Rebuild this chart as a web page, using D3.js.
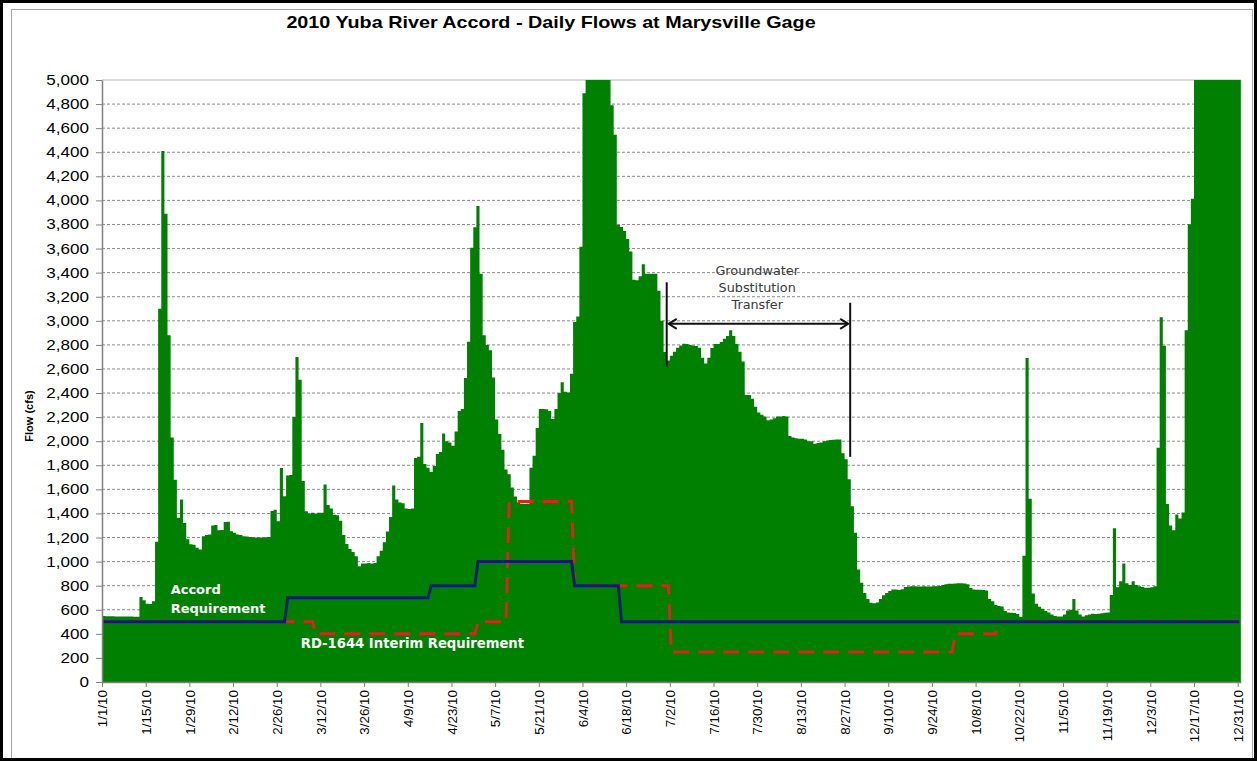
<!DOCTYPE html>
<html>
<head>
<meta charset="utf-8">
<script src="https://cdn.jsdelivr.net/npm/d3@7"></script>
<style>
  html, body { margin: 0; padding: 0; background: #fff; }
  svg { display: block; }
</style>
</head>
<body>
<div class="flow-viz"></div>
<script>
// daily flow at the Marysville gage, cfs, one value per day of 2010
// (the June and late-December peaks run off the top)
const flowJan = [548, 547, 546, 546, 545, 545, 544, 544, 543, 543, 542, 542, 705, 680, 650, 648, 670, 1165, 3100, 4410, 3890, 2880, 2030, 1680, 1365, 1515, 1320, 1185, 1145, 1140, 1115];
const flowFeb = [1100, 1210, 1220, 1225, 1300, 1305, 1260, 1262, 1328, 1330, 1253, 1240, 1225, 1220, 1211, 1208, 1205, 1203, 1200, 1200, 1200, 1202, 1205, 1420, 1430, 1336, 1778, 1543];
const flowMar = [1715, 1720, 2200, 2700, 2510, 1670, 1418, 1400, 1405, 1400, 1405, 1405, 1640, 1470, 1440, 1390, 1385, 1340, 1220, 1146, 1105, 1080, 1045, 962, 985, 985, 988, 985, 988, 1045, 1090];
const flowApr = [1160, 1250, 1370, 1632, 1515, 1490, 1485, 1440, 1437, 1440, 1861, 1870, 2151, 1811, 1780, 1744, 1794, 1894, 1910, 2064, 2000, 1990, 1963, 2081, 2251, 2268, 2525, 2827, 3606, 3776];
const flowMay = [3953, 3390, 2880, 2800, 2755, 2530, 2180, 2060, 1930, 1765, 1725, 1615, 1540, 1490, 1480, 1478, 1480, 1780, 1880, 2110, 2268, 2268, 2265, 2250, 2185, 2268, 2400, 2490, 2410, 2405, 2560];
const flowJun = [2990, 3035, 3615, 4890, 5600, 6400, 7100, 6800, 6200, 5800, 5500, 5200, 4790, 4545, 3795, 3780, 3745, 3680, 3575, 3340, 3336, 3370, 3470, 3390, 3390, 3390, 3390, 3250, 3000, 2740];
const flowJul = [2670, 2710, 2742, 2776, 2795, 2810, 2808, 2800, 2795, 2790, 2776, 2694, 2645, 2694, 2775, 2808, 2808, 2824, 2850, 2873, 2922, 2873, 2808, 2743, 2661, 2384, 2384, 2352, 2287, 2238, 2220];
const flowAug = [2205, 2173, 2180, 2190, 2205, 2205, 2210, 2205, 2043, 2030, 2025, 2020, 2020, 2015, 2000, 2000, 1978, 1985, 1990, 2000, 2005, 2010, 2012, 2015, 2015, 1900, 1850, 1683, 1460, 1240, 935];
const flowSep = [824, 740, 690, 658, 655, 660, 690, 720, 740, 755, 768, 768, 765, 770, 790, 793, 795, 795, 793, 793, 795, 793, 793, 795, 795, 798, 805, 812, 815, 816];
const flowOct = [818, 820, 820, 818, 812, 780, 768, 766, 766, 765, 760, 690, 670, 640, 632, 628, 590, 577, 575, 573, 565, 542, 1048, 2692, 1522, 735, 650, 625, 609, 590, 577];
const flowNov = [560, 548, 544, 544, 560, 593, 600, 690, 593, 560, 544, 555, 560, 567, 565, 567, 570, 575, 577, 723, 1277, 788, 837, 984, 821, 805, 837, 805, 795, 790];
const flowDec = [782, 782, 788, 795, 1945, 3029, 2792, 1479, 1300, 1261, 1391, 1358, 1407, 2922, 3801, 4013, 5600, 6500, 7300, 8000, 8600, 9100, 9500, 9800, 10000, 10200, 10400, 10500, 10600, 10700, 10800];

// requirement schedules: day of year (0 = 1/1) where each level starts
const accordStart = [0, 59, 105, 120, 151, 166];
const accordValue = [500, 700, 800, 1000, 800, 500];
const rdStart = [0, 68, 120, 130, 151, 182, 273, 287];
const rdValue = [500, 400, 500, 1500, 800, 250, 400, 500];

const tickLabels = ["1/1/10", "1/15/10", "1/29/10", "2/12/10", "2/26/10", "3/12/10", "3/26/10", "4/9/10", "4/23/10", "5/7/10", "5/21/10", "6/4/10", "6/18/10", "7/2/10", "7/16/10", "7/30/10", "8/13/10", "8/27/10", "9/10/10", "9/24/10", "10/8/10", "10/22/10", "11/5/10", "11/19/10", "12/3/10", "12/17/10", "12/31/10"];
const yTicks = [0, 200, 400, 600, 800, 1000, 1200, 1400, 1600, 1800, 2000, 2200, 2400, 2600, 2800, 3000, 3200, 3400, 3600, 3800, 4000, 4200, 4400, 4600, 4800, 5000];

const flows = [].concat(flowJan, flowFeb, flowMar, flowApr, flowMay, flowJun,
  flowJul, flowAug, flowSep, flowOct, flowNov, flowDec);

const start = new Date(2010, 0, 1);
const dates = flows.map((d, i) => d3.timeDay.offset(start, i));
const fmt = d3.timeFormat("%-m/%-d/%y");

function expand(starts, values) {
  return flows.map((d, i) => values[d3.bisectRight(starts, i) - 1]);
}
const accord = expand(accordStart, accordValue);
const rd1644 = expand(rdStart, rdValue);

const FONT = "'Liberation Sans', Arial, sans-serif";
const STRETCH = 1.22; // the source picture is a bit wide

const margin = { top: 80, right: 16.2, bottom: 79, left: 102 },
  width = 1257 - margin.left - margin.right,
  height = 761 - margin.top - margin.bottom;

const root = d3.select(".flow-viz")
  .append("svg")
  .attr("width", 1257)
  .attr("height", 761);

// frames
root.append("rect")
  .attr("x", 11.5).attr("y", 9.5)
  .attr("width", 1241).attr("height", 749)
  .attr("fill", "none").attr("stroke", "#a6a6a6");
root.append("rect")
  .attr("x", 1.5).attr("y", 1.5)
  .attr("width", 1254).attr("height", 758)
  .attr("fill", "none").attr("stroke", "#000").attr("stroke-width", 3);

// title
root.append("text")
  .attr("transform", `translate(551,28) scale(${STRETCH},1)`)
  .attr("text-anchor", "middle")
  .attr("font-family", FONT)
  .attr("font-weight", "bold")
  .attr("font-size", "16.2px")
  .text("2010 Yuba River Accord - Daily Flows at Marysville Gage");

const svg = root.append("g")
  .attr("transform", `translate(${margin.left}, ${margin.top})`);

const x = d3.scaleBand()
  .domain(d3.range(flows.length))
  .range([0, width])
  .padding(0);
const xDay = d3.scaleLinear()
  .domain([0, flows.length])
  .range([0, width]);
const y = d3.scaleLinear()
  .domain([0, 5000])
  .range([height, 0])
  .clamp(true);

// gridlines
svg.append("g")
  .selectAll("line")
  .data(yTicks.filter(v => v > 0))
  .enter()
  .append("line")
  .attr("x1", 0).attr("x2", width)
  .attr("y1", d => y(d)).attr("y2", d => y(d))
  .attr("stroke", d => d === 5000 ? "#b5b5b5" : "#8a8a8a")
  .attr("stroke-dasharray", d => d === 5000 ? null : "3,2")
  .attr("stroke-width", 1);

svg.append("line")
  .attr("x1", width).attr("x2", width)
  .attr("y1", 0).attr("y2", height)
  .attr("stroke", "#b5b5b5");

// daily columns, drawn as one stepped outline so the 3px columns have no seams
const columns = d3.area()
  .x((d, i) => xDay(i))
  .y0(height)
  .y1(d => y(d))
  .curve(d3.curveStepAfter);

svg.append("path")
  .datum(flows.concat([flows[flows.length - 1]]))
  .attr("d", columns)
  .attr("fill", "#008000");

// requirement lines
const line = d3.line()
  .x((d, i) => x(i) + x.bandwidth() / 2)
  .y(d => y(d));

svg.append("path")
  .datum(rd1644)
  .attr("d", line)
  .attr("fill", "none")
  .attr("stroke", "#d8261c")
  .attr("stroke-width", 3)
  .attr("stroke-dasharray", "16,9");

svg.append("path")
  .datum(accord)
  .attr("d", line)
  .attr("fill", "none")
  .attr("stroke", "#0f1f6b")
  .attr("stroke-width", 3);

// Y axis
const yAxis = svg.append("g")
  .call(d3.axisLeft(y).tickValues(yTicks).tickFormat(d3.format(",")).tickSize(6).tickSizeOuter(0));
yAxis.select(".domain").attr("stroke", "#808080").attr("stroke-width", 1.5);
yAxis.selectAll(".tick line").attr("stroke", "#808080");
yAxis.selectAll("text")
  .attr("x", null)
  .attr("transform", `translate(-13,0) scale(${STRETCH},1)`)
  .attr("font-family", FONT)
  .attr("font-size", "14px")
  .attr("fill", "#000");

// X axis
const tickDays = tickLabels.map(t => dates.findIndex(d => fmt(d) === t));
const xAxis = svg.append("g")
  .attr("transform", `translate(0, ${height})`)
  .call(d3.axisBottom(xDay).tickValues(tickDays).tickFormat(i => tickLabels[tickDays.indexOf(i)]).tickSize(5).tickSizeOuter(0));
xAxis.select(".domain").attr("stroke", "#808080").attr("stroke-width", 1.5);
xAxis.selectAll(".tick line").attr("stroke", "#808080");
xAxis.selectAll("text")
  .attr("transform", "rotate(-90)")
  .attr("x", -8)
  .attr("y", 0)
  .attr("dy", "0.35em")
  .style("text-anchor", "end")
  .attr("font-family", FONT)
  .attr("font-size", "13.4px")
  .attr("fill", "#000");

// Y axis title
root.append("text")
  .attr("transform", "translate(33,416) rotate(-90)")
  .attr("text-anchor", "middle")
  .attr("font-family", FONT)
  .attr("font-weight", "bold")
  .attr("font-size", "11px")
  .text("Flow (cfs)");

// annotations inside the plot
const labelFont = "'DejaVu Sans', Verdana, sans-serif";
const accordLabel = ["Accord", "Requirement"];
const accordLabelFlow = [730, 575];
svg.append("g")
  .selectAll("text")
  .data(accordLabel)
  .enter()
  .append("text")
  .attr("x", xDay(22))
  .attr("y", (d, i) => y(accordLabelFlow[i]))
  .attr("font-family", labelFont)
  .attr("font-weight", "bold")
  .attr("font-size", "13px")
  .attr("fill", "#fff")
  .text(d => d);

svg.append("text")
  .attr("x", xDay(63.7))
  .attr("y", y(280))
  .attr("font-family", labelFont)
  .attr("font-weight", "bold")
  .attr("font-size", "13.2px")
  .attr("fill", "#fff")
  .text("RD-1644 Interim Requirement");

const gwLabel = ["Groundwater", "Substitution", "Transfer"];
const gwLabelFlow = [3380, 3240, 3100];
svg.append("g")
  .selectAll("text")
  .data(gwLabel)
  .enter()
  .append("text")
  .attr("x", xDay(210))
  .attr("y", (d, i) => y(gwLabelFlow[i]))
  .attr("text-anchor", "middle")
  .attr("font-family", labelFont)
  .attr("font-size", "12.8px")
  .attr("fill", "#3a3a3a")
  .text(d => d);

// transfer period markers
const markerDay = [181, 239.8];
const markerTop = [3320, 3150];
const markerBottom = [2620, 1870];
const arrowFlow = 2975;
const marks = svg.append("g").attr("stroke", "#111").attr("stroke-width", 2).attr("fill", "none");
markerDay.forEach((d, i) => {
  marks.append("line")
    .attr("x1", xDay(d)).attr("x2", xDay(d))
    .attr("y1", y(markerTop[i])).attr("y2", y(markerBottom[i]));
});
const ax0 = xDay(markerDay[0]) + 2, ax1 = xDay(markerDay[1]) - 2, ay = y(arrowFlow);
marks.append("line").attr("x1", ax0).attr("x2", ax1).attr("y1", ay).attr("y2", ay);
marks.append("path").attr("d", `M${ax0 + 8},${ay - 5}L${ax0},${ay}L${ax0 + 8},${ay + 5}`);
marks.append("path").attr("d", `M${ax1 - 8},${ay - 5}L${ax1},${ay}L${ax1 - 8},${ay + 5}`);
</script>
</body>
</html>
